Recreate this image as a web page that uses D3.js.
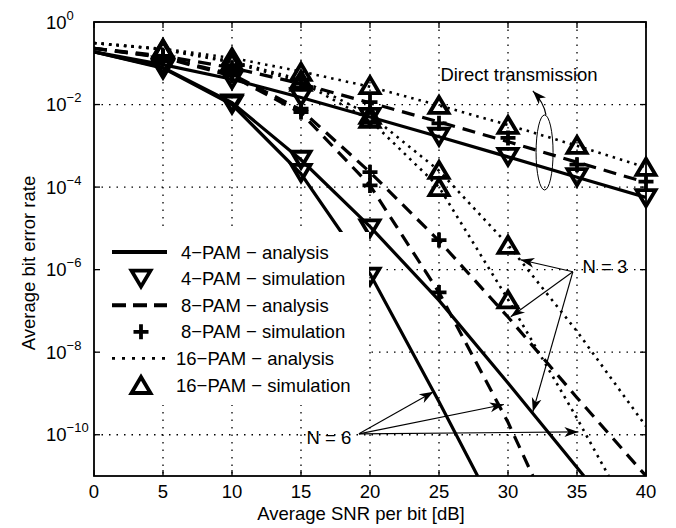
<!DOCTYPE html>
<html>
<head>
<meta charset="utf-8">
<script src="https://cdn.jsdelivr.net/npm/d3@7"></script>
<style>
  body { margin: 0; background: #fff; }
  text { font-family: "Liberation Sans", Arial, Helvetica, sans-serif; fill: #000; }
</style>
</head>
<body>
<svg id="chart" width="676" height="528"></svg>
<script>
// ---- data (BER vs average SNR per bit, dB) ----
const snr = [0, 5, 10, 15, 20, 25, 30, 35, 40]
const simSnr = [5, 10, 15, 20, 25, 30, 35, 40]

// direct transmission, analysis
const ber4Direct = [1.9e-1, 9.3e-2, 4.1e-2, 1.48e-2, 5.0e-3, 1.66e-3, 5.4e-4, 1.74e-4, 5.6e-5]
const ber8Direct = [2.3e-1, 1.51e-1, 7.8e-2, 3.2e-2, 1.1e-2, 3.8e-3, 1.26e-3, 4.0e-4, 1.3e-4]
const ber16Direct = [3.1e-1, 2.24e-1, 1.35e-1, 6.3e-2, 2.7e-2, 9.5e-3, 3.2e-3, 1.0e-3, 3.0e-4]

// N = 3, analysis
const snr4N3 = [0, 5, 10, 15, 20, 25, 30, 35, 35.5]
const ber4N3 = [1.9e-1, 7.9e-2, 1.12e-2, 4.6e-4, 1.1e-5, 1.8e-7, 1.8e-9, 1.6e-11, 1e-11]
const snr8N3 = [0, 5, 10, 15, 20, 25, 30, 35, 40]
const ber8N3 = [2.3e-1, 1.41e-1, 5.4e-2, 7.4e-3, 2.3e-4, 5.0e-6, 7.1e-8, 7.9e-10, 1.0e-11]
const snr16N3 = [0, 5, 10, 15, 20, 25, 30, 35, 40]
const ber16N3 = [3.1e-1, 2.19e-1, 1.12e-1, 4.0e-2, 5.6e-3, 2.5e-4, 4.0e-6, 3.2e-8, 1.6e-10]

// N = 6, analysis
const snr4N6 = [0, 5, 10, 15, 20, 25, 27.8]
const ber4N6 = [1.9e-1, 7.6e-2, 1.0e-2, 2.1e-4, 7.9e-7, 6.3e-10, 1e-11]
const snr8N6 = [0, 5, 10, 15, 20, 25, 30, 31.8]
const ber8N6 = [2.3e-1, 1.38e-1, 4.9e-2, 6.3e-3, 1.1e-4, 2.8e-7, 2.0e-10, 1e-11]
const snr16N6 = [0, 5, 10, 15, 20, 25, 30, 35, 37.3]
const ber16N6 = [3.1e-1, 2.14e-1, 1.05e-1, 3.55e-2, 4.2e-3, 1.0e-4, 1.9e-7, 2.5e-10, 1e-11]

// simulation points
const sim4Direct = [8.9e-2, 4.0e-2, 1.51e-2, 5.0e-3, 1.66e-3, 5.4e-4, 1.74e-4, 5.4e-5]
const sim8Direct = [1.51e-1, 7.8e-2, 3.2e-2, 1.15e-2, 3.5e-3, 1.55e-3, 3.5e-4, 1.35e-4]
const sim16Direct = [2.3e-1, 1.41e-1, 6.2e-2, 2.95e-2, 9.8e-3, 3.2e-3, 1.05e-3, 3.1e-4]
const sim4N3 = [7.6e-2, 1.07e-2, 4.6e-4, 1.0e-5]
const sim4N6 = [7.1e-2, 1.0e-2, 2.2e-4, 6.8e-7]
const sim8N3 = [1.41e-1, 5.6e-2, 7.9e-3, 2.3e-4, 5.2e-6]
const sim8N6 = [1.38e-1, 5.0e-2, 6.6e-3, 1.1e-4, 2.8e-7]
const sim16N3 = [2.19e-1, 1.12e-1, 4.0e-2, 5.6e-3, 2.6e-4, 4.0e-6]
const sim16N6 = [2.14e-1, 1.05e-1, 3.55e-2, 4.5e-3, 1.0e-4, 1.9e-7]

const xTicks = [0, 5, 10, 15, 20, 25, 30, 35, 40]
const yTicks = [1e0, 1e-2, 1e-4, 1e-6, 1e-8, 1e-10]
const yTickExp = ["0", "\u22122", "\u22124", "\u22126", "\u22128", "\u221210"]
const legendLabels = ["4\u2212PAM \u2212 analysis", "4\u2212PAM \u2212 simulation", "8\u2212PAM \u2212 analysis",
  "8\u2212PAM \u2212 simulation", "16\u2212PAM \u2212 analysis", "16\u2212PAM \u2212 simulation"]

// ---- layout ----
const margin = { top: 22, right: 30, bottom: 52, left: 94 }
const W = 676, H = 528
const svg = d3.select("#chart")
const x = d3.scaleLinear().domain([0, 40]).range([margin.left, W - margin.right])
const y = d3.scaleLog().domain([1e-11, 1]).range([H - margin.bottom, margin.top])
const x0 = x.range()[0], x1 = x.range()[1], yTop = y.range()[1], yBot = y.range()[0]

svg.append("rect").attr("width", W).attr("height", H).attr("fill", "#fff")
svg.append("defs").append("clipPath").attr("id", "plotclip")
  .append("rect").attr("x", x0).attr("y", yTop).attr("width", x1 - x0).attr("height", yBot - yTop)

// arrow head
svg.select("defs").append("marker").attr("id", "arr").attr("viewBox", "-14 -6 16 12")
  .attr("markerWidth", 16).attr("markerHeight", 12).attr("markerUnits", "userSpaceOnUse")
  .attr("refX", 0).attr("refY", 0).attr("orient", "auto")
  .append("path").attr("d", "M0,0 L-14,-5 L-10,0 L-14,5 Z").attr("fill", "#000")

// grid (dotted)
const grid = svg.append("g").attr("stroke", "#000").attr("stroke-width", 1.3).attr("stroke-dasharray", "1.5,6")
grid.selectAll(".gx").data(xTicks.slice(1, -1)).join("line").attr("class", "gx")
  .attr("x1", d => x(d)).attr("x2", d => x(d)).attr("y1", yTop).attr("y2", yBot)
grid.selectAll(".gy").data(yTicks.slice(1)).join("line").attr("class", "gy")
  .attr("y1", d => y(d)).attr("y2", d => y(d)).attr("x1", x0).attr("x2", x1)

// curves
const plot = svg.append("g").attr("clip-path", "url(#plotclip)")
const line = d3.line().x(d => x(d[0])).y(d => y(d[1]))
const styles = {
  solid: { w: 3.2, dash: null },
  dashed: { w: 3.2, dash: "13,8" },
  dotted: { w: 2.6, dash: "2.5,5" }
}
const curves = [
  [snr, ber4Direct, "solid"], [snr4N3, ber4N3, "solid"], [snr4N6, ber4N6, "solid"],
  [snr, ber8Direct, "dashed"], [snr8N3, ber8N3, "dashed"], [snr8N6, ber8N6, "dashed"],
  [snr, ber16Direct, "dotted"], [snr16N3, ber16N3, "dotted"], [snr16N6, ber16N6, "dotted"]
]
curves.forEach(([xs, ys, s]) => {
  plot.append("path").attr("d", line(d3.zip(xs, ys)))
    .attr("fill", "none").attr("stroke", "#000").attr("stroke-width", styles[s].w)
    .attr("stroke-dasharray", styles[s].dash)
})

// markers
const sym = {
  down: "M0,8 L9.5,-8 L-9.5,-8 Z",
  up: "M0,-8 L9.5,8 L-9.5,8 Z",
  plus: "M-7.5,0 H7.5 M0,-7.5 V7.5"
}
const sims = [
  [simSnr, sim4Direct, "down"], [simSnr.slice(0, 4), sim4N3, "down"], [simSnr.slice(0, 4), sim4N6, "down"],
  [simSnr, sim8Direct, "plus"], [simSnr.slice(0, 5), sim8N3, "plus"], [simSnr.slice(0, 5), sim8N6, "plus"],
  [simSnr, sim16Direct, "up"], [simSnr.slice(0, 6), sim16N3, "up"], [simSnr.slice(0, 6), sim16N6, "up"]
]
sims.forEach(([xs, ys, m]) => {
  svg.append("g").selectAll("path").data(d3.zip(xs, ys)).join("path")
    .attr("transform", d => `translate(${x(d[0])},${y(d[1])})`)
    .attr("d", sym[m]).attr("fill", "none").attr("stroke", "#000").attr("stroke-width", 3.8)
})

// legend (white box over the curves)
const lg = svg.append("g")
lg.append("rect").attr("x", 96).attr("y", 232).attr("width", 273).attr("height", 173).attr("fill", "#fff")
const legItems = [["solid", null], [null, "down"], ["dashed", null], [null, "plus"], ["dotted", null], [null, "up"]]
legItems.forEach(([s, m], i) => {
  const ly = 252 + i * 26.6
  if (s) lg.append("line").attr("x1", 112).attr("x2", 167).attr("y1", ly).attr("y2", ly)
    .attr("stroke", "#000").attr("stroke-width", s === "dotted" ? 2.8 : 4)
    .attr("stroke-dasharray", s === "dashed" ? "14,7" : s === "dotted" ? "3,7" : null)
  if (m) lg.append("path").attr("transform", `translate(141,${ly})`).attr("d", sym[m])
    .attr("fill", "none").attr("stroke", "#000").attr("stroke-width", 3.8)
  lg.append("text").attr("x", i < 4 ? 181 : 176).attr("y", ly + 6.5).attr("font-size", 18.5).text(legendLabels[i])
})

// axes frame and ticks
svg.append("rect").attr("x", x0).attr("y", yTop).attr("width", x1 - x0).attr("height", yBot - yTop)
  .attr("fill", "none").attr("stroke", "#000").attr("stroke-width", 1.8)
const ticks = svg.append("g").attr("stroke", "#000").attr("stroke-width", 1.3)
xTicks.forEach(d => {
  ticks.append("line").attr("x1", x(d)).attr("x2", x(d)).attr("y1", yBot).attr("y2", yBot - 6)
  ticks.append("line").attr("x1", x(d)).attr("x2", x(d)).attr("y1", yTop).attr("y2", yTop + 6)
})
yTicks.forEach(d => {
  ticks.append("line").attr("x1", x0).attr("x2", x0 + 6).attr("y1", y(d)).attr("y2", y(d))
  ticks.append("line").attr("x1", x1).attr("x2", x1 - 6).attr("y1", y(d)).attr("y2", y(d))
})
svg.selectAll(".xl").data(xTicks).join("text").attr("class", "xl")
  .attr("x", d => x(d)).attr("y", 498).attr("text-anchor", "middle").attr("font-size", 18.5).text(d => d)
yTicks.forEach((d, i) => {
  const t = svg.append("text").attr("x", 46).attr("y", y(d) + 6.5).attr("font-size", 18.5)
  t.append("tspan").text("10")
  t.append("tspan").attr("dy", -9).attr("font-size", 13).text(yTickExp[i])
})
svg.append("text").attr("x", 361).attr("y", 520).attr("text-anchor", "middle").attr("font-size", 18.5)
  .text("Average SNR per bit [dB]")
svg.append("text").attr("transform", "translate(35,263) rotate(-90)").attr("text-anchor", "middle")
  .attr("font-size", 18.5).text("Average bit error rate")

// annotations
const ann = svg.append("g")
ann.append("ellipse").attr("cx", x(32.65)).attr("cy", y(6.9e-4)).attr("rx", 8.5).attr("ry", 37.5)
  .attr("fill", "none").attr("stroke", "#000").attr("stroke-width", 1)
ann.append("path").attr("d", `M${x(32.75)},${y(6.9e-4) - 37.5} Q${x(32.6)},${y(10 ** -1.95)} ${x(31.8)},${y(10 ** -1.67)}`)
  .attr("fill", "none").attr("stroke", "#000").attr("stroke-width", 1.2).attr("marker-end", "url(#arr)")
ann.append("text").attr("x", x(25.1)).attr("y", y(10 ** -1.43)).attr("font-size", 18.5).text("Direct transmission")

const n3 = [34.7, 8.9e-7]
ann.append("text").attr("x", x(35.4)).attr("y", y(8.3e-7)).attr("font-size", 18.5).text("N = 3")
const n3Tips = [[30.9, 1.74e-6], [30.2, 7.2e-8], [31.8, 3.6e-10]]
n3Tips.forEach(t => ann.append("line").attr("x1", x(n3[0])).attr("y1", y(n3[1])).attr("x2", x(t[0])).attr("y2", y(t[1]))
  .attr("stroke", "#000").attr("stroke-width", 1.1).attr("marker-end", "url(#arr)"))

const n6 = [19.2, 1.05e-10]
ann.append("text").attr("x", x(15.4)).attr("y", y(5.8e-11)).attr("font-size", 18.5).text("N = 6")
const n6Tips = [[24.6, 1.1e-9], [29.7, 5.4e-10], [35.1, 1.17e-10]]
n6Tips.forEach(t => ann.append("line").attr("x1", x(n6[0])).attr("y1", y(n6[1])).attr("x2", x(t[0])).attr("y2", y(t[1]))
  .attr("stroke", "#000").attr("stroke-width", 1.1).attr("marker-end", "url(#arr)"))
</script>
</body>
</html>
